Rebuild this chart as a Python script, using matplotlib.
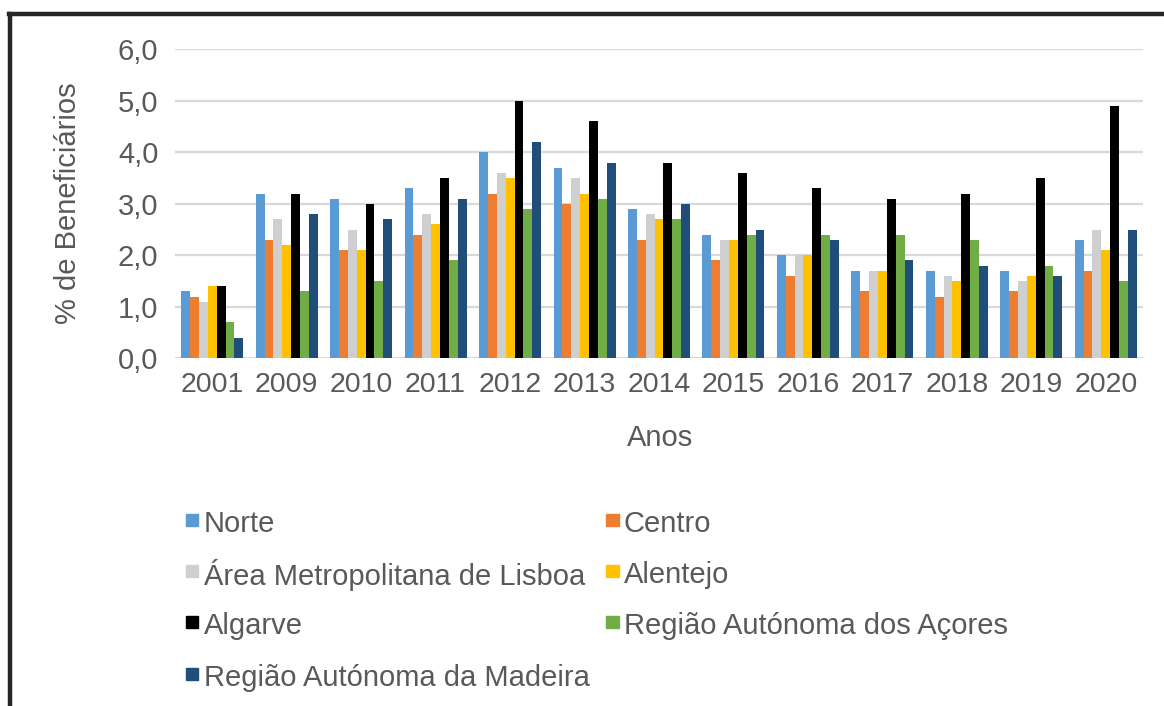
import matplotlib.pyplot as plt
import numpy as np
from matplotlib.lines import Line2D
from matplotlib.patches import Rectangle

plt.rcParams['font.family'] = ['Liberation Sans', 'DejaVu Sans']

anos = ['2001', '2009', '2010', '2011', '2012', '2013', '2014', '2015', '2016', '2017', '2018', '2019', '2020']
regioes = ['Norte', 'Centro', 'Área Metropolitana de Lisboa', 'Alentejo', 'Algarve',
           'Região Autónoma dos Açores', 'Região Autónoma da Madeira']
cores = ['#5B9BD5', '#ED7D31', '#CFCFCF', '#FFC000', '#000000', '#70AD47', '#1F4E79']

norte    = [1.3, 3.2, 3.1, 3.3, 4.0, 3.7, 2.9, 2.4, 2.0, 1.7, 1.7, 1.7, 2.3]
centro   = [1.2, 2.3, 2.1, 2.4, 3.2, 3.0, 2.3, 1.9, 1.6, 1.3, 1.2, 1.3, 1.7]
aml      = [1.1, 2.7, 2.5, 2.8, 3.6, 3.5, 2.8, 2.3, 2.0, 1.7, 1.6, 1.5, 2.5]
alentejo = [1.4, 2.2, 2.1, 2.6, 3.5, 3.2, 2.7, 2.3, 2.0, 1.7, 1.5, 1.6, 2.1]
algarve  = [1.4, 3.2, 3.0, 3.5, 5.0, 4.6, 3.8, 3.6, 3.3, 3.1, 3.2, 3.5, 4.9]
acores   = [0.7, 1.3, 1.5, 1.9, 2.9, 3.1, 2.7, 2.4, 2.4, 2.4, 2.3, 1.8, 1.5]
madeira  = [0.4, 2.8, 2.7, 3.1, 4.2, 3.8, 3.0, 2.5, 2.3, 1.9, 1.8, 1.6, 2.5]
series = [norte, centro, aml, alentejo, algarve, acores, madeira]

yticks = [0, 1, 2, 3, 4, 5, 6]
ytick_labels = ['0,0', '1,0', '2,0', '3,0', '4,0', '5,0', '6,0']

cinza = '#595959'
fs = 21
W, H = 1164, 706

fig = plt.figure(figsize=(W/100, H/100), dpi=100)
ax = fig.add_axes([175/W, 1-358.3/H, 968/W, 309/H])

x = np.arange(len(anos))
w = 0.119
for i, (vals, c, nome) in enumerate(zip(series, cores, regioes)):
    ax.bar(x + (i-3)*w, vals, w, color=c, label=nome, zorder=3)

ax.set_xlim(-0.5, len(anos)-0.5)
ax.set_ylim(0, 6)
ax.set_yticks(yticks)
ax.set_yticklabels(ytick_labels)
ax.set_xticks(x)
ax.set_xticklabels(anos)
ax.grid(axis='y', color='#D9D9D9', lw=1.6, zorder=0)
ax.set_axisbelow(True)
for s in ax.spines.values():
    s.set_visible(False)
ax.tick_params(length=0, labelcolor=cinza)
ax.tick_params(axis='y', pad=12, labelsize=fs)
ax.tick_params(axis='x', pad=10, labelsize=20.5)

fig.text(68/W, 1-203/H, '% de Beneficiários', rotation=90, ha='center', va='center',
         fontsize=fs, color=cinza)
fig.text(660/W, 1-438/H, 'Anos', ha='center', va='center', fontsize=fs, color=cinza)

# legenda em 2 colunas, preenchida por linhas
col_x = [186, 606]
row_y = [520, 571, 622, 674]
q = 12.5
for i, (nome, c) in enumerate(zip(regioes, cores)):
    cx = col_x[i % 2]
    cy = row_y[i // 2]
    fig.add_artist(Rectangle((cx/W, 1-(cy+q/2)/H), q/W, q/H, color=c,
                             transform=fig.transFigure))
    fig.text((cx+q+5)/W, 1-(cy+1)/H, nome, ha='left', va='center_baseline',
             fontsize=fs, color=cinza)

# moldura
fig.add_artist(Line2D([10/W, 10/W], [0, 1-14/H], color='#262626', lw=3.2))
fig.add_artist(Line2D([8.5/W, 1], [1-14/H, 1-14/H], color='#262626', lw=3.2))

fig.savefig('out.png', dpi=100)
